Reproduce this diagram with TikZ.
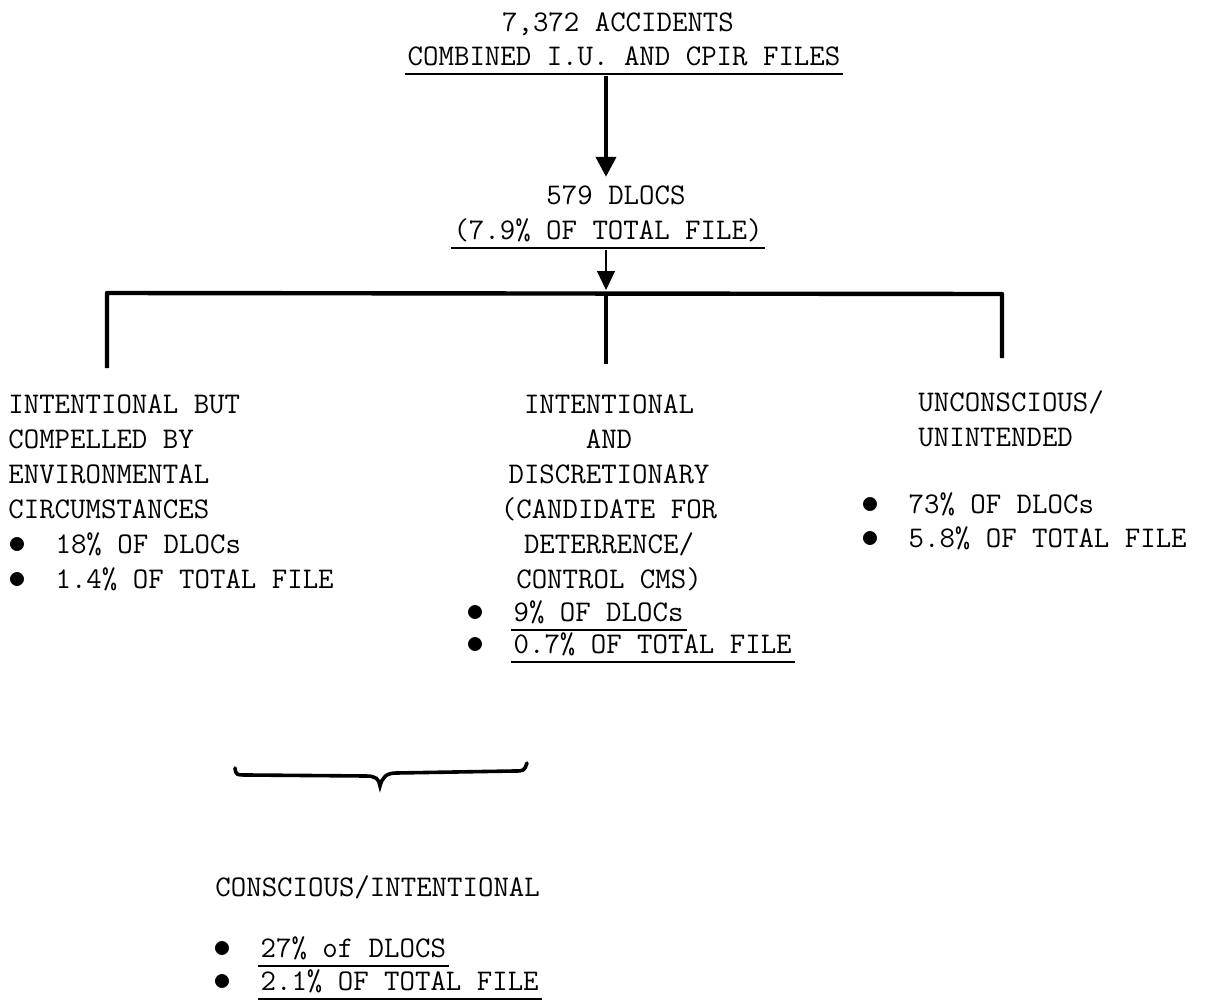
\documentclass[tikz,border=0pt]{standalone}
\usepackage{tikz}
\usetikzlibrary{positioning,calc,arrows.meta}

\newsavebox{\ulbox}
\newcommand{\ulined}[1]{\sbox{\ulbox}{#1}\rlap{\hspace{-1.5pt}\rule[-5.2pt]{\dimexpr\wd\ulbox+3pt\relax}{1.2pt}}\usebox{\ulbox}}
\newcommand{\bul}{\makebox[23.6pt][l]{\scalebox{1.25}{$\bullet$}}}

\begin{document}
\begin{tikzpicture}[x=0.5pt,y=-0.5pt,
  txt/.style={font=\fontsize{15}{17.5}\selectfont\ttfamily, inner sep=0pt},
  arr/.style={line width=2pt, -{Triangle[width=10pt,length=10pt]}, shorten >=4pt},
  thinarr/.style={line width=0.6pt, -{Triangle[width=9pt,length=9.5pt]}, shorten >=1.5pt},
  barline/.style={line width=2.2pt, line join=round},
  stem/.style={line width=1.8pt},
  brace/.style={line width=1.8pt, line cap=round}]
\useasboundingbox (0,0) rectangle (1206,1007);

% top of the tree
\node[txt, anchor=base] (acc) at (618,31) {7,372 ACCIDENTS};
\node[txt, anchor=base] (comb) at (624,65) {\ulined{COMBINED I.U. AND CPIR FILES}};
\node[txt, anchor=base] (dlocs) at (616,204) {579 DLOCS};
\node[txt, anchor=base] (pct) at (608,239) {\ulined{(7.9\% OF TOTAL FILE)}};

\coordinate (bl) at (107,293);
\coordinate (br) at (1002,294);
\coordinate (mid) at (606,293);

% three groups (base = last line)
\node[txt, anchor=north west, align=left] (compel) at (8,394)
  {INTENTIONAL BUT\\COMPELLED BY\\ENVIRONMENTAL\\CIRCUMSTANCES\\\bul 18\% OF DLOCs\\\bul 1.4\% OF TOTAL FILE};
\node[txt, anchor=north, align=center] (discr) at (609,394)
  {INTENTIONAL\\AND\\DISCRETIONARY\\(CANDIDATE FOR\\DETERRENCE/\\CONTROL CMS)};
\node[txt, font=\fontsize{15}{16}\selectfont\ttfamily, anchor=base west, align=left] (discrpct) at (466,653)
  {\bul\ulined{9\% OF DLOCs}\\\bul\ulined{0.7\% OF TOTAL FILE}};
\node[txt, anchor=north west, align=left] (unint) at (918,390) {UNCONSCIOUS/\\UNINTENDED};
\node[txt, font=\fontsize{15}{17}\selectfont\ttfamily, anchor=base west, align=left] (unintpct) at (861,547)
  {\bul 73\% OF DLOCs\\\bul 5.8\% OF TOTAL FILE};

% arrows and bar
\draw[arr] (comb.south -| mid) -- (dlocs.north -| mid);
\draw[thinarr] (pct.south -| mid) -- (mid);
\draw[barline] ([yshift=13pt]bl |- compel.north) -- (bl) -- (br) -- ([yshift=16pt]br |- unint.north);
\draw[stem] (mid) -- ([yshift=15pt]mid |- discr.north);

% brace and the conscious total
\draw[brace] (235,768) .. controls (236,775) .. (248,775) -- (366,776)
  .. controls (376,776) and (379,779) .. (380,786)
  .. controls (382,778) and (386,773) .. (396,773) -- (514,771)
  .. controls (524,771) .. (527,763);
\node[txt, anchor=base west] (consc) at (215,896) {CONSCIOUS/INTENTIONAL};
\node[txt, font=\fontsize{15}{16.5}\selectfont\ttfamily, anchor=base west, align=left] (conscpct) at (213,990)
  {\bul\ulined{27\% of DLOCS}\\\bul\ulined{2.1\% OF TOTAL FILE}};
\end{tikzpicture}
\end{document}
